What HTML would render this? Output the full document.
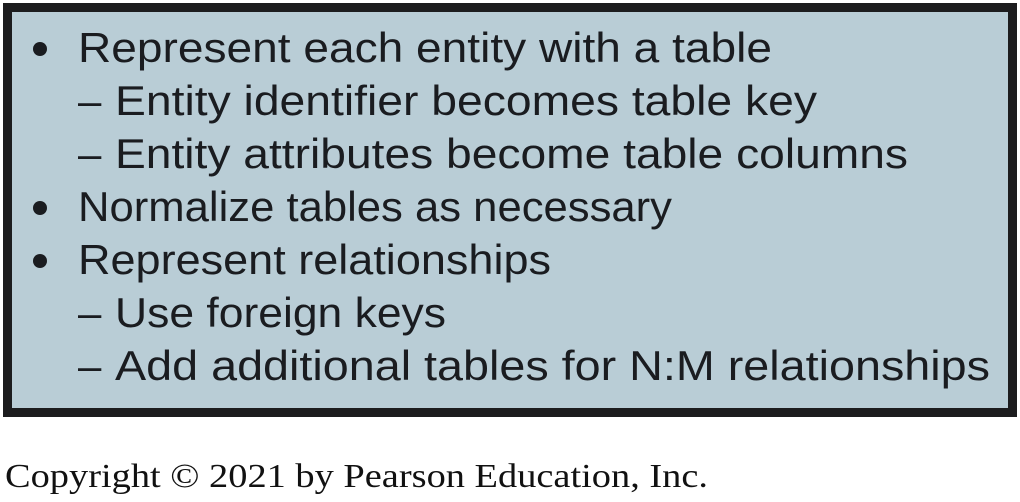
<!DOCTYPE html>
<html><head><meta charset="utf-8"><style>
html,body{margin:0;padding:0;background:#fff;width:1020px;height:502px;overflow:hidden}
svg text{font-family:"Liberation Sans","DejaVu Sans",sans-serif;fill:#1a1c20}
</style></head><body>
<svg width="1020" height="502">
<rect x="7.5" y="7.5" width="1005" height="405" fill="#b9cdd6" stroke="#1c1c1e" stroke-width="9"/>
<g font-size="42">
<circle cx="40" cy="49" r="7" fill="#1a1c20"/>
<text x="78" y="62" textLength="694" lengthAdjust="spacingAndGlyphs">Represent each entity with a table</text>
<text x="78" y="115">–</text>
<text x="115" y="115" textLength="702" lengthAdjust="spacingAndGlyphs">Entity identifier becomes table key</text>
<text x="78" y="168">–</text>
<text x="115" y="168" textLength="793" lengthAdjust="spacingAndGlyphs">Entity attributes become table columns</text>
<circle cx="40" cy="208" r="7" fill="#1a1c20"/>
<text x="78" y="221" textLength="594" lengthAdjust="spacingAndGlyphs">Normalize tables as necessary</text>
<circle cx="40" cy="261" r="7" fill="#1a1c20"/>
<text x="78" y="274" textLength="473" lengthAdjust="spacingAndGlyphs">Represent relationships</text>
<text x="78" y="327">–</text>
<text x="115" y="327" textLength="331" lengthAdjust="spacingAndGlyphs">Use foreign keys</text>
<text x="78" y="380">–</text>
<text x="115" y="380" textLength="875" lengthAdjust="spacingAndGlyphs">Add additional tables for N:M relationships</text>
</g>
<text x="5" y="487" font-size="34" textLength="703" lengthAdjust="spacingAndGlyphs" style="font-family:'Liberation Serif',serif;fill:#111">Copyright © 2021 by Pearson Education, Inc.</text>
</svg>
</body></html>
